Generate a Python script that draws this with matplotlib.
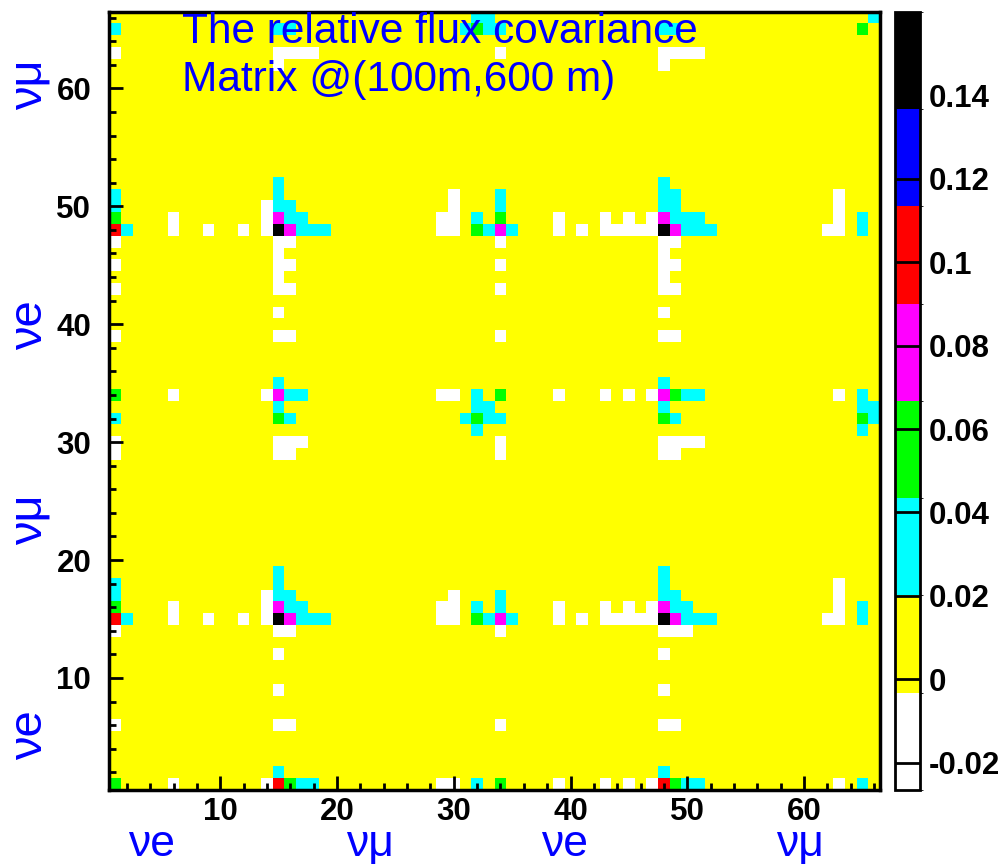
import numpy as np
import matplotlib
matplotlib.use('Agg')
import matplotlib.pyplot as plt
from matplotlib.colors import ListedColormap, BoundaryNorm
from matplotlib.ticker import MultipleLocator

# 66 x 66 relative flux covariance matrix, bins 1..66
n_bins = 66
z_min, z_max = -0.0265, 0.16
palette = ['#ffffff', '#ffff00', '#00ffff', '#00ff00',
           '#ff00ff', '#ff0000', '#0000ff', '#000000']

# most cells sit in the yellow band (0 .. 0.02)
base_value = 0.008

# cells, (x bin, y bin), grouped by colour band
white_cells = [
    (6, 1), (14, 1), (29, 1), (30, 1), (39, 1), (43, 1), (45, 1), (47, 1), (63, 1),
    (1, 6), (15, 6), (16, 6), (34, 6), (48, 6), (49, 6),
    (15, 9), (48, 9), (15, 12), (48, 12),
    (1, 14), (15, 14), (16, 14), (34, 14), (48, 14), (49, 14), (50, 14),
    (6, 15), (9, 15), (12, 15), (14, 15), (29, 15), (30, 15), (39, 15), (41, 15),
    (43, 15), (44, 15), (45, 15), (46, 15), (47, 15), (62, 15), (63, 15),
    (6, 16), (14, 16), (29, 16), (30, 16), (39, 16), (43, 16), (45, 16), (47, 16), (63, 16),
    (14, 17), (30, 17), (63, 17), (63, 18),
    (1, 29), (15, 29), (16, 29), (34, 29), (48, 29), (49, 29),
    (1, 30), (15, 30), (16, 30), (17, 30), (34, 30), (48, 30), (49, 30), (50, 30), (51, 30),
    (6, 34), (14, 34), (29, 34), (30, 34), (39, 34), (43, 34), (45, 34), (47, 34), (63, 34),
    (1, 39), (15, 39), (16, 39), (34, 39), (48, 39), (49, 39),
    (15, 41), (48, 41),
    (1, 43), (15, 43), (16, 43), (34, 43), (48, 43), (49, 43),
    (15, 44), (48, 44),
    (1, 45), (15, 45), (16, 45), (34, 45), (48, 45), (49, 45),
    (15, 46), (48, 46),
    (1, 47), (15, 47), (16, 47), (34, 47), (48, 47), (49, 47),
    (6, 48), (9, 48), (12, 48), (14, 48), (29, 48), (30, 48), (39, 48), (41, 48),
    (43, 48), (44, 48), (45, 48), (46, 48), (47, 48), (62, 48), (63, 48),
    (6, 49), (14, 49), (29, 49), (30, 49), (39, 49), (43, 49), (45, 49), (47, 49), (63, 49),
    (14, 50), (30, 50), (63, 50), (30, 51), (63, 51),
    (15, 62), (48, 62),
    (1, 63), (15, 63), (16, 63), (17, 63), (18, 63), (34, 63),
    (48, 63), (49, 63), (50, 63), (51, 63),
]
cyan_cells = [
    (17, 1), (18, 1), (32, 1), (50, 1), (51, 1), (65, 1), (15, 2), (48, 2),
    (2, 15), (17, 15), (18, 15), (19, 15), (33, 15), (35, 15), (50, 15), (51, 15), (52, 15), (65, 15),
    (16, 16), (17, 16), (32, 16), (34, 16), (49, 16), (50, 16), (65, 16),
    (1, 17), (15, 17), (16, 17), (34, 17), (48, 17), (49, 17),
    (1, 18), (15, 18), (48, 18), (15, 19), (48, 19),
    (65, 31), (32, 31),
    (1, 32), (16, 32), (31, 32), (33, 32), (34, 32), (49, 32), (66, 32),
    (15, 33), (32, 33), (33, 33), (48, 33), (65, 33), (66, 33),
    (16, 34), (17, 34), (32, 34), (50, 34), (51, 34), (65, 34),
    (15, 35), (48, 35),
    (2, 48), (17, 48), (18, 48), (19, 48), (33, 48), (35, 48), (50, 48), (51, 48), (52, 48), (65, 48),
    (16, 49), (17, 49), (32, 49), (49, 49), (50, 49), (51, 49), (65, 49),
    (1, 50), (15, 50), (16, 50), (34, 50), (48, 50), (49, 50),
    (1, 51), (15, 51), (34, 51), (48, 51), (49, 51),
    (15, 52), (48, 52),
    (1, 65), (15, 65), (16, 65), (31, 65), (33, 65), (34, 65), (48, 65), (49, 65),
    (32, 66), (33, 66), (66, 66),
]
green_cells = [
    (1, 1), (16, 1), (34, 1), (49, 1), (1, 16), (32, 15),
    (1, 34), (15, 32), (34, 34), (32, 32), (48, 32), (49, 34), (65, 32),
    (1, 49), (32, 48), (34, 49), (32, 65), (65, 65),
]
magenta_cells = [
    (15, 16), (16, 15), (34, 15), (48, 16), (49, 15), (15, 34), (48, 34),
    (15, 49), (16, 48), (34, 48), (48, 49), (49, 48),
]
red_cells = [(1, 15), (15, 1), (48, 1), (1, 48)]
blue_cells = []
black_cells = [(15, 15), (48, 15), (15, 48), (48, 48)]

band_values = {'white': -0.012, 'cyan': 0.03, 'green': 0.055, 'magenta': 0.078,
               'red': 0.10, 'blue': 0.125, 'black': 0.15}

x_ticks = [10, 20, 30, 40, 50, 60]
cbar_ticks = [-0.02, 0, 0.02, 0.04, 0.06, 0.08, 0.1, 0.12, 0.14]
cbar_labels = ['-0.02', '0', '0.02', '0.04', '0.06', '0.08', '0.1', '0.12', '0.14']

z = np.full((n_bins, n_bins), base_value)
for name, cells in [('white', white_cells), ('cyan', cyan_cells), ('green', green_cells),
                    ('magenta', magenta_cells), ('red', red_cells), ('blue', blue_cells),
                    ('black', black_cells)]:
    for (ix, iy) in cells:
        z[iy - 1, ix - 1] = band_values[name]

levels = np.linspace(z_min, z_max, len(palette) + 1)
cmap = ListedColormap(palette)
norm = BoundaryNorm(levels, cmap.N)

plt.rcParams['font.family'] = ['Liberation Sans', 'DejaVu Sans']

fig = plt.figure(figsize=(10.04, 8.67), dpi=100)
ax = fig.add_axes([109.3 / 1004, 77 / 867, 770.7 / 1004, 778.3 / 867])
edges = np.arange(0.5, n_bins + 1.0, 1.0)
mesh = ax.pcolormesh(edges, edges, z, cmap=cmap, norm=norm)
ax.set_xlim(0.5, 66.5)
ax.set_ylim(0.5, 66.5)

ax.set_xticks(x_ticks)
ax.set_yticks(x_ticks)
ax.xaxis.set_minor_locator(MultipleLocator(2))
ax.yaxis.set_minor_locator(MultipleLocator(2))
ax.tick_params(which='major', direction='in', length=10, width=2, labelsize=22.5)
ax.tick_params(axis='x', which='major', pad=5)
ax.tick_params(axis='y', which='major', pad=13)
ax.tick_params(which='minor', direction='in', length=5, width=2)
for lab in ax.get_xticklabels() + ax.get_yticklabels():
    lab.set_fontweight('bold')
for sp in ax.spines.values():
    sp.set_linewidth(2.5)

blue = '#0000ff'
ax.text(0.094, 1.0, 'The relative flux covariance\nMatrix @(100m,600 m)',
        transform=ax.transAxes, color=blue, fontsize=30.5, va='top', ha='left',
        linespacing=1.28)

# neutrino flavour labels along both axes
for xp, lab in [(152, '\u03bde'), (370, '\u03bd\u03bc'), (565, '\u03bde'), (800, '\u03bd\u03bc')]:
    fig.text(xp / 1004, 1 - 865 / 867, lab, color=blue, fontsize=32, ha='center', va='bottom')
for yp, lab in [(735, '\u03bde'), (520, '\u03bd\u03bc'), (325, '\u03bde'), (85, '\u03bd\u03bc')]:
    fig.text(30 / 1004, 1 - yp / 867, lab, color=blue, fontsize=34, ha='center', va='center',
             rotation=90)

cax = fig.add_axes([895 / 1004, 77 / 867, 25 / 1004, 778.3 / 867])
cbar = fig.colorbar(mesh, cax=cax, spacing='proportional', ticks=cbar_ticks)
cbar.ax.set_yticklabels(cbar_labels)
cbar.ax.tick_params(direction='in', length=18, width=2, labelsize=22.5, pad=6)
for lab in cbar.ax.get_yticklabels():
    lab.set_fontweight('bold')
cbar.outline.set_linewidth(2)

fig.savefig('out.png', dpi=100)
